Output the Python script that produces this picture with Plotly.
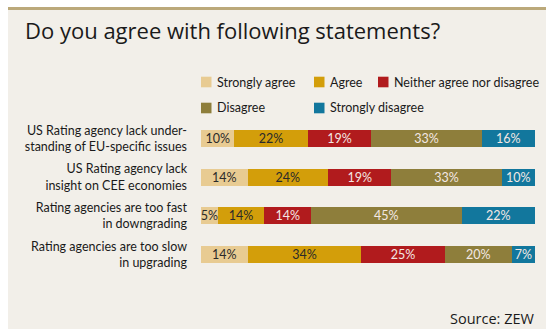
import plotly.graph_objects as go

# ---- data ----
statements = [
    "US Rating agency lack under-<br>standing of EU-specific issues",
    "US Rating agency lack<br>insight on CEE economies",
    "Rating agencies are too fast<br>in downgrading",
    "Rating agencies are too slow<br>in upgrading",
]
series_names = ["Strongly agree", "Agree", "Neither agree nor disagree", "Disagree", "Strongly disagree"]
strongly_agree = [10, 14, 5, 14]
agree = [22, 24, 14, 34]
neither = [19, 19, 14, 25]
disagree = [33, 33, 45, 20]
strongly_disagree = [16, 10, 22, 7]
series_values = [strongly_agree, agree, neither, disagree, strongly_disagree]

# ---- styles ----
colors = ["#e8cb92", "#d39e0a", "#b11b1d", "#8e7e3b", "#12779d"]
text_colors = ["#2a2a2a", "#2a2a2a", "#f3e8e4", "#f3e8e4", "#f3e8e4"]
BG = "#f2efe9"
LINE = "#bba97a"
FONT = "Lato"

W, H = 546, 329
L, R, T, B = 201, 11, 119, 55
PW, PH = W - L - R, H - T - B


def px(x):
    return (x - L) / PW


def py(y):
    return (H - B - y) / PH


fig = go.Figure()
for name, vals, col, tcol in zip(series_names, series_values, colors, text_colors):
    fig.add_trace(go.Bar(
        x=vals, y=statements, orientation="h", name=name,
        marker=dict(color=col, line=dict(width=0)),
        text=[f"{v}%" for v in vals], textposition="inside",
        insidetextanchor="middle", textangle=0,
        textfont=dict(color=tcol, size=12.5, family=FONT),
        hoverinfo="skip", showlegend=False,
    ))

shapes = [
    dict(type="rect", xref="paper", yref="paper", x0=px(8), x1=px(W), y0=py(H), y1=py(9),
         fillcolor=BG, line=dict(width=0), layer="below"),
    dict(type="rect", xref="paper", yref="paper", x0=px(8), x1=px(W), y0=py(10), y1=py(7),
         fillcolor=LINE, line=dict(width=0), layer="below"),
]

annotations = [
    dict(text="Do you agree with following statements?", xref="paper", yref="paper",
         x=px(23), y=py(30), xanchor="left", yanchor="middle", showarrow=False,
         font=dict(family="Open Sans", size=22, color="#1a1a1a")),
    dict(text="Source: ZEW", xref="paper", yref="paper",
         x=px(537), y=py(318), xanchor="right", yanchor="middle", showarrow=False,
         font=dict(family="Open Sans", size=14.5, color="#1a1a1a")),
]

# manual legend (two rows, columns as in the original)
legend_slots = [(217, 82), (330, 82), (394, 82), (217, 108), (330, 108)]
for name, col, (tx, ty) in zip(series_names, colors, legend_slots):
    shapes.append(dict(type="rect", xref="paper", yref="paper",
                       x0=px(tx - 16), x1=px(tx - 5.5), y0=py(ty + 5.3), y1=py(ty - 5.3),
                       fillcolor=col, line=dict(width=0)))
    annotations.append(dict(text=name, xref="paper", yref="paper", x=px(tx - 2), y=py(ty),
                            xanchor="left", yanchor="middle", showarrow=False,
                            font=dict(family=FONT, size=12.5, color="#1a1a1a")))

fig.update_layout(
    width=W, height=H, autosize=False,
    margin=dict(l=L, r=R, t=T, b=B, pad=0),
    paper_bgcolor="white", plot_bgcolor="rgba(0,0,0,0)",
    barmode="stack", bargap=0.56,
    uniformtext=dict(minsize=12.5, mode="show"),
    shapes=shapes, annotations=annotations,
    xaxis=dict(range=[0, 100], visible=False, fixedrange=True),
    yaxis=dict(autorange="reversed", showgrid=False, zeroline=False, showline=False,
               ticks="", ticklabelstandoff=13, fixedrange=True,
               tickfont=dict(family=FONT, size=12.5, color="#1a1a1a")),
    showlegend=False,
)

fig.write_html("out.html", config={"displayModeBar": False})
